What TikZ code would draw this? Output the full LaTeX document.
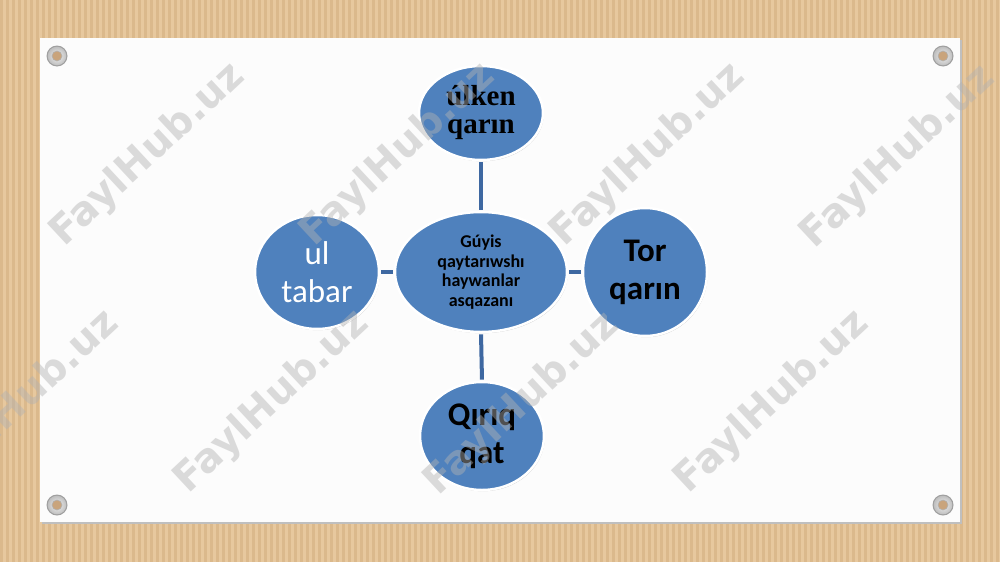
\documentclass[tikz,border=0pt]{standalone}
\usepackage{fontspec}
\setmainfont{Carlito}
\newfontfamily\serifb{Liberation Serif}
\newfontfamily\wmfont{DejaVu Sans}
\usetikzlibrary{shapes.geometric,shadows}
\definecolor{wood}{HTML}{E7C89E}
\definecolor{woodd}{HTML}{DBB98C}
\definecolor{nodeblue}{HTML}{4F81BD}
\definecolor{linkblue}{HTML}{3E68A1}
\definecolor{boardc}{HTML}{FCFCFC}
\definecolor{hole}{HTML}{C9A47C}
\begin{document}
\begin{tikzpicture}[x=1pt,y=-1pt,
  bub/.style={ellipse, fill=nodeblue, draw=white, line width=2.5pt, inner sep=0pt, align=center,
    drop shadow={shadow xshift=0.8pt, shadow yshift=-1.2pt, opacity=0.22, fill=black}},
  link/.style={draw=linkblue, line width=4pt, shorten <=1.2pt, shorten >=1.2pt},
  wm/.style={font=\wmfont\bfseries\fontsize{40}{40}\selectfont, text=gray!60, opacity=0.45, rotate=43, inner sep=0pt},
  sansbig/.style={font=\bfseries\fontsize{33}{38}\selectfont, text=black},
]
\useasboundingbox (0,0) rectangle (1000,562);
% wood background
\fill[wood] (0,0) rectangle (1000,562);
\foreach \i in {0,6,...,996} \fill[woodd] (\i,0) rectangle (\i+3,562);
% board
\fill[black!25] (42,40) rectangle (962,524);
\fill[boardc] (40,38) rectangle (960,522);
% screws
\foreach \p in {(57,56),(943,56),(57,505),(943,505)} {
  \fill[gray!75] \p circle (10.5);
  \shade[inner color=gray!10, outer color=gray!50] \p circle (9.3);
  \fill[hole] \p circle (5);
  \draw[gray!60, line width=0.6pt] \p circle (5);
}
% nodes
\node[bub, minimum width=172pt, minimum height=120pt, font=\bfseries\fontsize{18}{19.5}\selectfont]
  (ctr) at (481,272) {Gúyis\\qaytarıwshı\\haywanlar\\asqazanı};
\node[bub, minimum width=124pt, minimum height=94pt, font=\serifb\bfseries\fontsize{29}{28}\selectfont]
  (top) at (481,113) {úlken\\qarın};
\node[bub, minimum width=124pt, minimum height=128pt, sansbig]
  (right) at (645,272) {Tor\\qarın};
\node[bub, minimum width=124pt, minimum height=114pt, font=\fontsize{33}{38}\selectfont, text=white]
  (left) at (317,272) {ul\\tabar};
\node[bub, minimum width=124pt, minimum height=108pt, sansbig]
  (bot) at (482,436) {Qırıq\\qat};
% connectors
\draw[link] (top.south) -- (ctr.north);
\draw[link] (left.east) -- (ctr.west);
\draw[link] (ctr.east) -- (right.west);
\draw[link] (ctr.south) -- (bot.north);
% watermarks
\node[wm] (wm1) at (148,155) {FaylHub.uz};
\node[wm] (wm2) at (398,155) {FaylHub.uz};
\node[wm] (wm3) at (648,155) {FaylHub.uz};
\node[wm] (wm4) at (898,157) {FaylHub.uz};
\node[wm] (wm5) at (22,402) {FaylHub.uz};
\node[wm] (wm6) at (272,402) {FaylHub.uz};
\node[wm] (wm7) at (522,404) {FaylHub.uz};
\node[wm] (wm8) at (772,402) {FaylHub.uz};
\end{tikzpicture}
\end{document}
